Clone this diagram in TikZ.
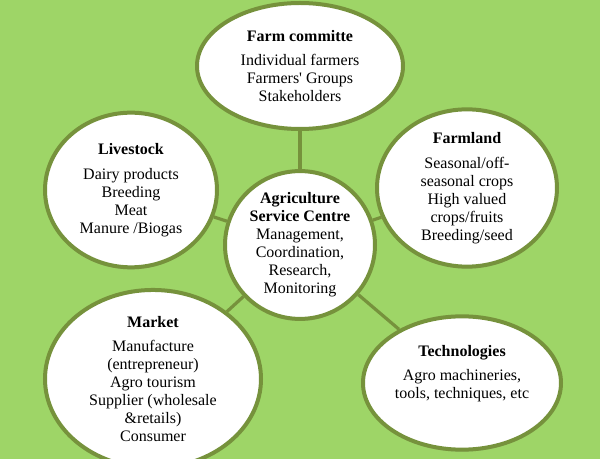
\documentclass[tikz,border=0pt]{standalone}
\usepackage{fontspec}
\setmainfont{Liberation Serif}
\usepackage{tikz}
\usetikzlibrary{shapes.geometric,shadows,positioning}
\definecolor{fieldGreen}{RGB}{158,213,103}
\definecolor{oliveRim}{RGB}{118,146,60}

\begin{document}
\begin{tikzpicture}[x=0.75pt,y=-0.75pt,
  every node/.style={font=\fontspec{Liberation Serif}\fontsize{12}{13.5}\selectfont},
  hub/.style={ellipse,draw=oliveRim,line width=3pt,fill=white,align=center,inner sep=0pt,
    drop shadow={opacity=0.25,shadow xshift=0pt,shadow yshift=-1.5pt}},
  link/.style={draw=oliveRim,line width=2.4pt}]
  % background
  \fill[fieldGreen](0,0) rectangle (600,459);
  \useasboundingbox (0,0) rectangle (600,459);
  % centre and the five areas
  \node[hub,minimum width=112.5pt,minimum height=109.5pt] (asc) at (300,245)
    {\textbf{Agriculture}\\\textbf{Service Centre}\\Management,\\Coordination,\\Research,\\Monitoring};
  \node[hub,minimum width=154.5pt,minimum height=94.5pt] (farm) at (300,66)
    {\textbf{Farm committe}\\[5pt]Individual farmers\\Farmers\textquotesingle\ Groups\\Stakeholders};
  \node[hub,minimum width=129pt,minimum height=116pt] (live) at (131,190)
    {\textbf{Livestock}\\[5pt]Dairy products\\Breeding\\Meat\\Manure /Biogas};
  \node[hub,minimum width=135pt,minimum height=112.5pt] (land) at (467,188)
    {\textbf{Farmland}\\[5pt]Seasonal/off-\\seasonal crops\\High valued\\crops/fruits\\Breeding/seed};
  \node[hub,minimum width=162pt,minimum height=111pt] (market) at (153,379)
    {\textbf{Market}\\[5pt]Manufacture\\(entrepreneur)\\Agro tourism\\Supplier (wholesale\\\&retails)\\Consumer};
  \node[hub,minimum width=148.5pt,minimum height=100pt] (tech) at (462,383)
    {\textbf{Technologies}\\[5pt]Agro machineries,\\tools, techniques, etc\\[3pt]\mbox{}};
  % connectors
  \foreach \n in {farm,live,land,market,tech}{
    \draw[link](asc)--(\n);
  }
\end{tikzpicture}
\end{document}
